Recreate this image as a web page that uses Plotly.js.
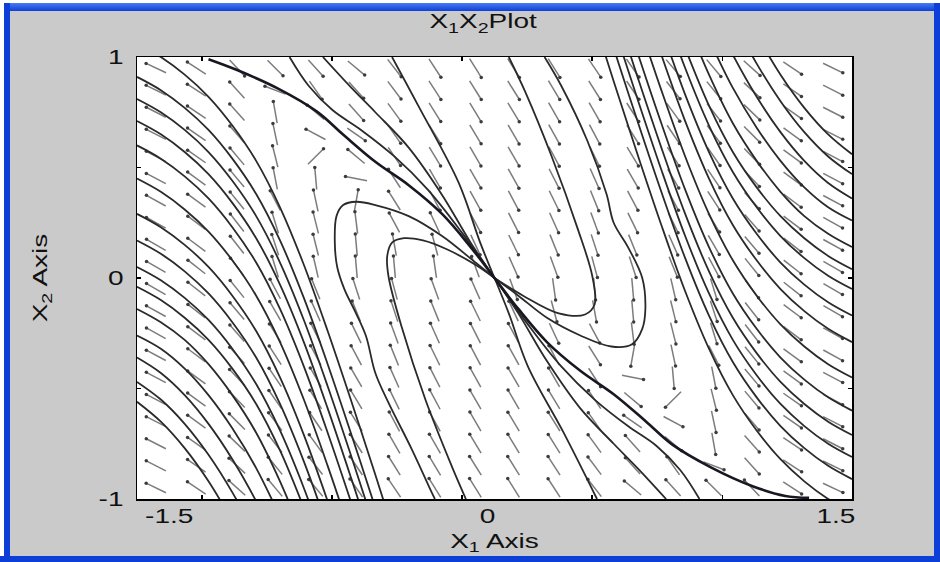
<!DOCTYPE html>
<html><head><meta charset="utf-8">
<script src="https://cdn.plot.ly/plotly-3.0.1.min.js"></script>
<style>
html,body{margin:0;padding:0;background:#fff;}
#wrap{position:relative;width:940px;height:562px;overflow:hidden;}
#chart{position:absolute;left:0;top:0;width:940px;height:562px;}
.bd{position:absolute;pointer-events:none;}
</style></head><body>
<div id="wrap"><div id="chart"></div>
<div class="bd" style="left:0;top:0;width:940px;height:3px;background:#fff"></div>
<div class="bd" style="left:0;top:3px;width:940px;height:8px;background:linear-gradient(#4a7cf2,#0b3fd8)"></div>
<div class="bd" style="left:0;top:0;width:4px;height:562px;background:#fff"></div>
<div class="bd" style="left:4px;top:3px;width:6px;height:559px;background:#0b3fd8"></div>
<div class="bd" style="right:0;top:3px;width:6px;height:559px;background:#0b3fd8"></div>
<div class="bd" style="left:0;bottom:0;width:940px;height:6px;background:#0b3fd8"></div>
</div>
<script>
// ---------- data ----------
const xRange = [-1.5, 1.5];
const yRange = [-1, 1];
const xTickMarks = [-1.227, -0.682, -0.136, 0.409, 0.955];
const xTickLabelVals = [-1.5, 0, 1.5];
const xTickLabelText = ['-1.5', '0', '1.5'];
const yTickVals = [-1, 0, 1];
const yTickText = ['-1', '0', '1'];
const yMinorTicks = [-0.5, 0.5];

// direction field: grid centres and heading (degrees, screen orientation)
const fieldX = [-1.42,-1.25,-1.08,-0.92,-0.75,-0.58,-0.42,-0.25,-0.08,0.08,0.25,0.42,0.58,0.75,0.92,1.08,1.25,1.42];
const fieldY = [0.95,0.85,0.75,0.65,0.55,0.45,0.35,0.25,0.15,0.05,-0.05,-0.15,-0.25,-0.35,-0.45,-0.55,-0.65,-0.75,-0.85,-0.95];
const fieldHeading = [
 [155,147,-47,-45,-48,-40,-52,-57,-58,-58,-58,-56,-55,-50,-50,-42,-34,-26],
 [154,147,132,159,-55,-48,-53,-57,-58,-58,-59,-58,-56,-52,-51,-43,-35,-27],
 [153,146,132,100,140,-48,-54,-58,-59,-59,-60,-60,-57,-54,-52,-44,-35,-27],
 [153,145,131,102,152,-35,-55,-58,-59,-60,-61,-62,-58,-56,-53,-45,-36,-27],
 [152,145,130,104,45,140,-56,-59,-60,-60,-62,-64,-59,-58,-55,-46,-36,-28],
 [152,144,130,101,95,169,123,-60,-60,-61,-63,-66,-60,-60,-56,-47,-36,-28],
 [151,144,129,117,102,80,122,-62,-61,-62,-64,-68,-62,-62,-57,-48,-37,-28],
 [151,143,128,107,104,97,118,115,-62,-63,-66,-70,-64,-64,-58,-49,-37,-29],
 [150,143,128,108,104,95,100,105,-65,-64,-68,-72,-68,-66,-60,-50,-38,-29],
 [150,142,127,107,103,95,95,98,110,-66,-70,-75,-72,-68,-62,-51,-38,-30],
 [150,142,129,118,112,108,105,110,114,-70,-82,-85,-85,-77,-73,-53,-38,-30],
 [151,142,130,120,114,112,108,112,116,115,-75,-80,-85,-76,-72,-52,-37,-30],
 [151,143,131,122,116,116,110,114,117,118,-65,-62,-83,-76,-73,-52,-37,-29],
 [152,143,132,123,118,118,112,116,118,119,118,-58,-100,-78,-63,-51,-36,-29],
 [152,144,133,124,120,120,114,117,119,120,120,-57,-11,-85,-79,-50,-36,-28],
 [152,144,134,125,122,121,116,118,120,120,121,124,-40,-135,-76,-50,-35,-28],
 [153,144,135,127,124,122,118,119,120,121,122,125,145,-28,-78,-49,-35,-27],
 [153,145,136,128,126,123,120,120,121,121,122,126,132,-40,-80,-48,-34,-27],
 [153,145,137,129,128,124,122,121,122,122,123,127,132,125,-21,-48,-33,-26],
 [154,146,138,130,130,125,124,122,122,122,123,128,140,132,135,133,-33,-25]
];

// trajectories sweeping in from the left edge
const fanLeftX = [-1.5,-1.4,-1.3,-1.2,-1.1,-1.0,-0.9,-0.8,-0.7,-0.6,-0.5,-0.45];
const fanLeftY = [
 [1.06,1.00,0.92,0.82,0.69,0.53,0.32,0.06,-0.24,-0.56,-0.89,-1.06],
 [0.91,0.85,0.77,0.67,0.54,0.38,0.17,-0.09,-0.39,-0.71,-1.04,-1.21],
 [0.81,0.75,0.67,0.57,0.44,0.28,0.07,-0.19,-0.49,-0.81,-1.14],
 [0.71,0.65,0.57,0.47,0.34,0.18,-0.03,-0.29,-0.59,-0.91,-1.24],
 [0.60,0.54,0.46,0.36,0.23,0.07,-0.14,-0.40,-0.70,-1.02],
 [0.45,0.39,0.31,0.21,0.08,-0.08,-0.29,-0.55,-0.85,-1.17],
 [0.29,0.23,0.15,0.05,-0.08,-0.24,-0.45,-0.71,-1.01],
 [0.17,0.11,0.03,-0.07,-0.20,-0.36,-0.57,-0.83,-1.13],
 [0.05,-0.01,-0.09,-0.19,-0.32,-0.48,-0.69,-0.95,-1.25],
 [-0.04,-0.10,-0.18,-0.28,-0.41,-0.57,-0.78,-1.04],
 [-0.14,-0.20,-0.28,-0.39,-0.53,-0.70,-0.92,-1.18],
 [-0.26,-0.32,-0.41,-0.53,-0.68,-0.86,-1.08],
 [-0.36,-0.43,-0.53,-0.66,-0.82,-1.01,-1.23],
 [-0.47,-0.55,-0.66,-0.80,-0.97,-1.17],
 [-0.56,-0.65,-0.77,-0.92,-1.10]
];
// trajectories sweeping out to the right edge
const fanRightX = [1.5,1.4,1.3,1.2,1.1,1.0,0.9,0.8,0.7,0.6,0.5,0.45];
const fanRightY = [
 [-1.06,-1.00,-0.92,-0.82,-0.69,-0.53,-0.32,-0.06,0.24,0.56,0.89,1.06],
 [-0.91,-0.85,-0.77,-0.67,-0.54,-0.38,-0.17,0.09,0.39,0.71,1.04,1.21],
 [-0.81,-0.75,-0.67,-0.57,-0.44,-0.28,-0.07,0.19,0.49,0.81,1.14],
 [-0.71,-0.65,-0.57,-0.47,-0.34,-0.18,0.03,0.29,0.59,0.91,1.24],
 [-0.60,-0.54,-0.46,-0.36,-0.23,-0.07,0.14,0.40,0.70,1.02],
 [-0.45,-0.39,-0.31,-0.21,-0.08,0.08,0.29,0.55,0.85,1.17],
 [-0.29,-0.23,-0.15,-0.05,0.08,0.24,0.45,0.71,1.01],
 [-0.17,-0.11,-0.03,0.07,0.20,0.36,0.57,0.83,1.13],
 [-0.05,0.01,0.09,0.19,0.32,0.48,0.69,0.95,1.25],
 [0.04,0.10,0.18,0.28,0.41,0.57,0.78,1.04],
 [0.14,0.20,0.28,0.39,0.53,0.70,0.92,1.18],
 [0.26,0.32,0.41,0.53,0.68,0.86,1.08],
 [0.36,0.43,0.53,0.66,0.82,1.01,1.23],
 [0.47,0.55,0.66,0.80,0.97,1.17],
 [0.56,0.65,0.77,0.92,1.10]
];
// trajectories through the origin (including the two loops on each side)
const coreX = [
 [-0.43,-0.32,-0.15,-0.06,0.0],
 [-0.72,-0.60,-0.50,-0.36,-0.22,-0.10,0.0],
 [-0.86,-0.78,-0.68,-0.56,-0.42,-0.28,-0.14,0.0],
 [0.0,-0.08,-0.22,-0.36,-0.5,-0.58,-0.635,-0.663,-0.67,-0.66,-0.63,-0.59,-0.54,-0.5,-0.445,-0.347,-0.263,-0.25],
 [0.0,-0.08,-0.2,-0.3,-0.38,-0.43,-0.45,-0.445,-0.39,-0.29,-0.18,-0.12],
 [0.0,0.06,0.14,0.29,0.43],
 [0.0,0.10,0.22,0.36,0.50,0.60,0.72],
 [0.0,0.14,0.28,0.42,0.56,0.68,0.78,0.86],
 [0.0,0.10,0.22,0.36,0.49,0.577,0.62,0.633,0.62,0.56,0.5,0.47,0.39,0.28,0.21],
 [0.0,0.12,0.27,0.38,0.42,0.41,0.35,0.24,0.13,0.06]
];
const coreY = [
 [1.0,0.78,0.43,0.16,0.0],
 [1.0,0.86,0.75,0.59,0.376,0.16,0.0],
 [1.0,0.87,0.76,0.67,0.55,0.40,0.21,0.0],
 [0.0,0.07,0.19,0.28,0.33,0.345,0.33,0.28,0.16,0.05,-0.05,-0.14,-0.26,-0.43,-0.564,-0.775,-0.971,-1.0],
 [0.0,0.06,0.13,0.17,0.18,0.16,0.10,0.009,-0.22,-0.55,-0.85,-1.0],
 [0.0,-0.16,-0.40,-0.70,-1.0],
 [0.0,-0.16,-0.376,-0.59,-0.75,-0.86,-1.0],
 [0.0,-0.21,-0.40,-0.55,-0.67,-0.76,-0.87,-1.0],
 [0.0,-0.08,-0.18,-0.26,-0.31,-0.30,-0.23,-0.14,0.0,0.14,0.25,0.38,0.62,0.87,1.0],
 [0.0,-0.08,-0.16,-0.165,-0.12,0.01,0.22,0.55,0.84,1.0]
];
// main (thick) trajectory through the origin
const sepX = [-1.2,-1.08,-0.91,-0.745,-0.633,-0.50,-0.36,-0.22,-0.10,0.0,0.10,0.22,0.36,0.50,0.633,0.745,0.91,1.08,1.22,1.32];
const sepY = [0.99,0.941,0.858,0.753,0.647,0.526,0.42,0.29,0.14,0.0,-0.14,-0.29,-0.42,-0.526,-0.647,-0.753,-0.858,-0.941,-0.986,-0.995];

// ---------- build ----------
const W = 940, H = 562;
const M = {l:137, r:88, t:57, b:63, pad:0};
const pxX = (W - M.l - M.r) / (xRange[1] - xRange[0]);
const pxY = (H - M.t - M.b) / (yRange[1] - yRange[0]);
const halfLen = 11;
const segX = [], segY = [], dotX = [], dotY = [];
fieldY.forEach((yv, i) => fieldX.forEach((xv, j) => {
  const a = fieldHeading[i][j] * Math.PI / 180;
  const dx = halfLen * Math.cos(a) / pxX, dy = halfLen * Math.sin(a) / pxY;
  segX.push(xv - dx, xv + dx, null); segY.push(yv - dy, yv + dy, null);
  dotX.push(xv + dx); dotY.push(yv + dy);
}));
function joinCurves(xs, ys) {
  const X = [], Y = [];
  ys.forEach((ya, k) => { X.push(...xs[k].slice(0, ya.length), null); Y.push(...ya, null); });
  return {X, Y};
}
const fl = joinCurves(fanLeftY.map(() => fanLeftX), fanLeftY);
const fr = joinCurves(fanRightY.map(() => fanRightX), fanRightY);
const co = joinCurves(coreX, coreY);
const font = 'Liberation Sans, Arial, sans-serif';
const txtColor = '#111';
const lineStyle = {color:'#2a2a2a', width:1.8, shape:'spline', smoothing:1};
const traces = [
  {x:segX, y:segY, mode:'lines', line:{color:'#7c7c7c', width:1.5}, hoverinfo:'skip'},
  {x:dotX, y:dotY, mode:'markers', marker:{size:3.5, color:'#3c3c3c'}, hoverinfo:'skip'},
  {x:fl.X, y:fl.Y, mode:'lines', line:lineStyle, connectgaps:false, hoverinfo:'skip'},
  {x:fr.X, y:fr.Y, mode:'lines', line:lineStyle, connectgaps:false, hoverinfo:'skip'},
  {x:co.X, y:co.Y, mode:'lines', line:lineStyle, connectgaps:false, hoverinfo:'skip'},
  {x:sepX, y:sepY, mode:'lines', line:{color:'#181822', width:2.6, shape:'spline', smoothing:1}, hoverinfo:'skip'}
];
const labelShift = [32, -7, -16];
const annotations = xTickLabelVals.map((v, k) => ({
  x: v, y: 0, xref:'x', yref:'paper', text: xTickLabelText[k], showarrow:false,
  xanchor:'center', xshift: labelShift[k], yanchor:'top', yshift:-4,
  font:{family:font, size:20, color:txtColor}
}));
const layout = {
  width:W, height:H, margin:M, showlegend:false,
  paper_bgcolor:'#cacaca', plot_bgcolor:'#ffffff',
  title:{text:'X<sub>1</sub>X<sub>2</sub>Plot', x:0.514, xanchor:'center', y:0.962, yanchor:'middle',
         font:{family:font, size:20, color:txtColor}},
  xaxis:{range:xRange, showgrid:false, zeroline:false, showline:true, linecolor:'#000', linewidth:1.5,
         mirror:'ticks', ticks:'inside', ticklen:4, tickcolor:'#000', tickwidth:1.2,
         tickmode:'array', tickvals:xTickMarks, showticklabels:false, fixedrange:true,
         title:{text:'X<sub>1</sub> Axis', standoff:34, font:{family:font, size:20, color:txtColor}}},
  yaxis:{range:yRange, showgrid:false, zeroline:false, showline:true, linecolor:'#000', linewidth:1.5,
         mirror:'ticks', ticks:'inside', ticklen:4, tickcolor:'#000', tickwidth:1.2,
         tickmode:'array', tickvals:yTickVals, ticktext:yTickText, ticklabelstandoff:8, fixedrange:true,
         minor:{tickmode:'array', tickvals:yMinorTicks, ticks:'inside', ticklen:4, tickcolor:'#000', tickwidth:1.2},
         tickfont:{family:font, size:20, color:txtColor},
         title:{text:'X<sub>2</sub> Axis', standoff:52, font:{family:font, size:20, color:txtColor}}},
  annotations: annotations
};
Plotly.newPlot('chart', traces, layout, {staticPlot:true, displayModeBar:false}).then(gd => {
  // the reference lettering is noticeably wider than Arial: widen each text run
  gd.querySelectorAll('svg text').forEach(t => {
    if (!t.textContent.trim()) return;
    const L = t.getComputedTextLength();
    if (L > 0) {
      t.setAttribute('textLength', (L * 1.4).toFixed(1));
      t.setAttribute('lengthAdjust', 'spacingAndGlyphs');
    }
  });
});
</script>
</body></html>
